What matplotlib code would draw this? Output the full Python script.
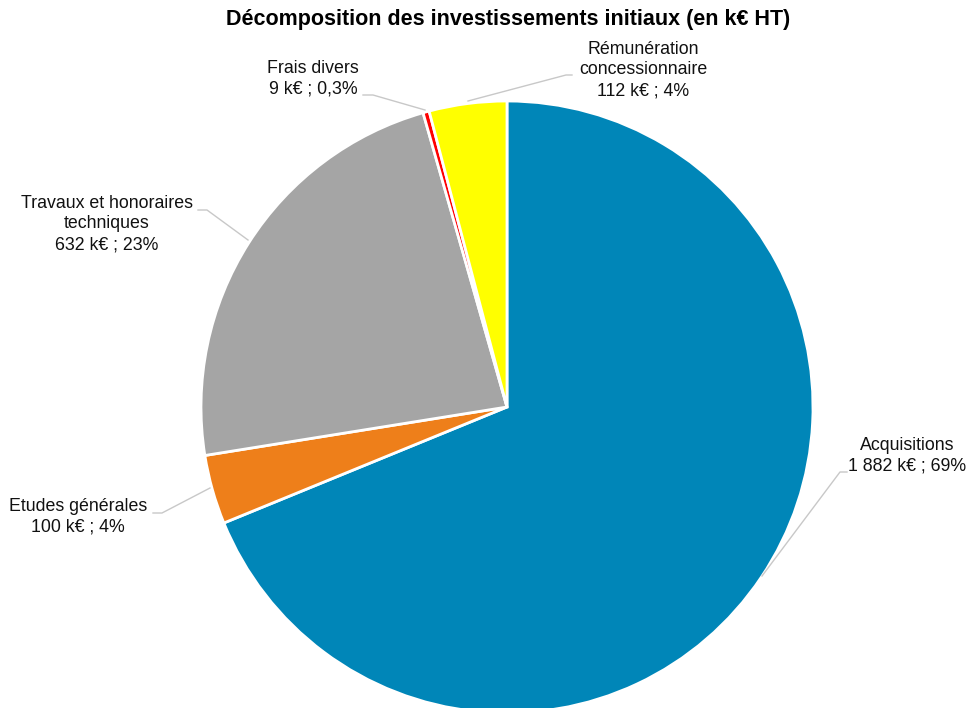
import matplotlib
matplotlib.use("Agg")
import matplotlib.pyplot as plt

plt.rcParams['font.family'] = ['Liberation Sans', 'DejaVu Sans']

# data (k€ HT)
categories = ['Acquisitions', 'Etudes générales', 'Travaux et honoraires\ntechniques',
              'Frais divers', 'Rémunération\nconcessionnaire']
values = [1882, 100, 632, 9, 112]
pct_labels = ['69%', '4%', '23%', '0,3%', '4%']
colors = ['#0086B8', '#EE7F1A', '#A5A5A5', '#FF0000', '#FFFF00']

W, H = 970, 708
fig = plt.figure(figsize=(W / 100, H / 100), dpi=100)
ax = fig.add_axes([0, 0, 1, 1])

# pie centre / radius in pixel units (y measured from the bottom)
cx, cy, r = 507, H - 407, 306
ax.pie(values, colors=colors, startangle=90, counterclock=False,
       center=(cx, cy), radius=r,
       wedgeprops=dict(edgecolor='white', linewidth=2))
ax.set_xlim(0, W)
ax.set_ylim(0, H)
ax.set_aspect('equal')
ax.axis('off')

def fmt(v):
    s = f"{v:,}".replace(',', ' ')
    return s + ' k€'

# label centres and leader lines (pixel coords, y from top)
label_pos = [(907, 456), (78, 517), (107, 224), (313, 79), (643, 70)]
leaders = [
    [(847, 472), (840, 472), (762, 576)],
    [(153, 513), (162, 513), (210, 488)],
    [(198, 210), (207, 210), (248, 240)],
    [(363, 95), (373, 95), (425, 110)],
    [(572, 75), (566, 75), (468, 101)],
]

for cat, v, p, (x, y), pts in zip(categories, values, pct_labels, label_pos, leaders):
    ax.text(x, H - y, f"{cat}\n{fmt(v)} ; {p}", ha='center', va='center',
            fontsize=12.8, linespacing=1.3, color='#111111')
    ax.plot([q[0] for q in pts], [H - q[1] for q in pts], color='#C8C8C8', lw=1)

ax.text(508, H - 20, 'Décomposition des investissements initiaux (en k€ HT)',
        ha='center', va='center', fontsize=15.5, fontweight='bold')

fig.savefig('out.png', dpi=100)
